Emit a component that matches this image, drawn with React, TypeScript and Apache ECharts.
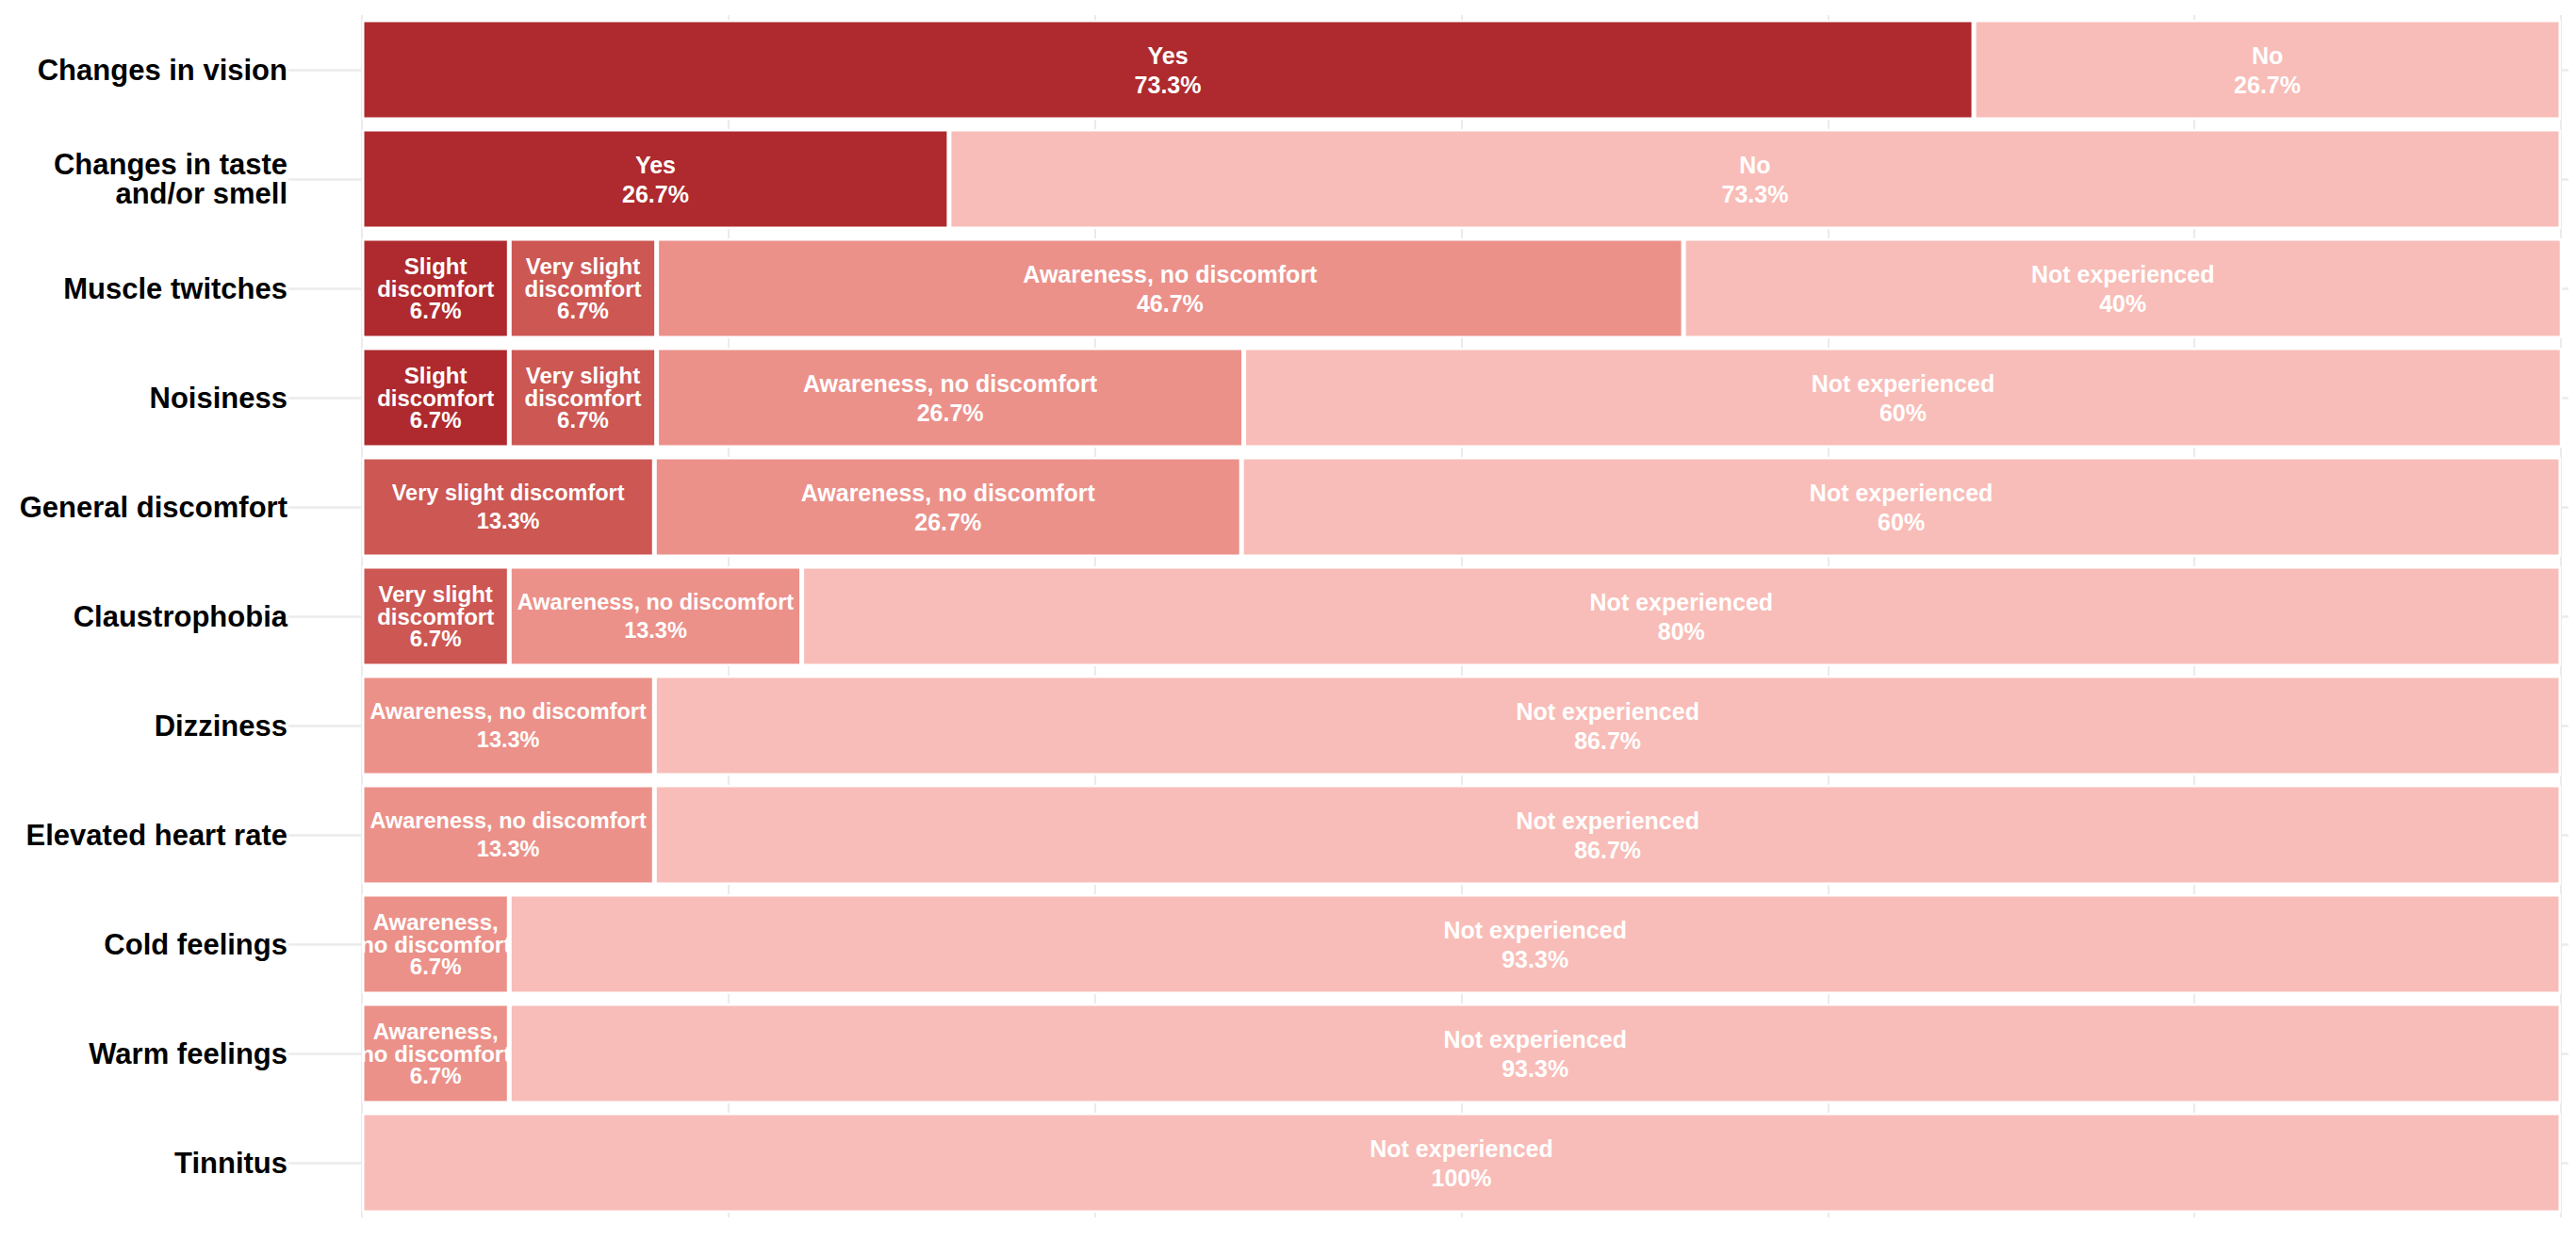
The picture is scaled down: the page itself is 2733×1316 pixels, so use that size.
import React, { useEffect, useRef } from "react";
import * as echarts from "echarts";

const categories = [
  "Changes in vision",
  "Changes in taste\nand/or smell",
  "Muscle twitches",
  "Noisiness",
  "General discomfort",
  "Claustrophobia",
  "Dizziness",
  "Elevated heart rate",
  "Cold feelings",
  "Warm feelings",
  "Tinnitus",
];

const seriesNames = [
  "Yes",
  "Slight discomfort",
  "Very slight discomfort",
  "Awareness, no discomfort",
  "No",
  "Not experienced",
];

const yesValues = [73.3, 26.7, null, null, null, null, null, null, null, null, null];
const slightValues = [null, null, 6.7, 6.7, null, null, null, null, null, null, null];
const verySlightValues = [null, null, 6.7, 6.7, 13.3, 6.7, null, null, null, null, null];
const awarenessValues = [null, null, 46.7, 26.7, 26.7, 13.3, 13.3, 13.3, 6.7, 6.7, null];
const noValues = [26.7, 73.3, null, null, null, null, null, null, null, null, null];
const notExperiencedValues = [null, null, 40, 60, 60, 80, 86.7, 86.7, 93.3, 93.3, 100];

// wrapped forms of names used in narrow segments
const wrappedNames: Record<string, string[]> = {
  "Slight discomfort": ["Slight", "discomfort"],
  "Very slight discomfort": ["Very slight", "discomfort"],
  "Awareness, no discomfort": ["Awareness,", "no discomfort"],
};

const colors = ["#ae2a2e", "#ae2a2e", "#cc5753", "#eb918a", "#f8bdb8", "#f8bdb8"];

const allValues = [
  yesValues,
  slightValues,
  verySlightValues,
  awarenessValues,
  noValues,
  notExperiencedValues,
];

const FONT = "'Liberation Sans', Arial, Helvetica, sans-serif";

function fmt(v: number) {
  return (Math.round(v * 10) / 10).toString() + "%";
}

export default function App() {
  const ref = useRef<HTMLDivElement>(null);
  useEffect(() => {
    if (!ref.current) return;
    const chart = echarts.init(ref.current, undefined, { renderer: "svg" });
    const series = seriesNames.map((name, i) => ({
      name,
      type: "bar",
      stack: "total",
      barCategoryGap: "8.5%",
      data: allValues[i],
      itemStyle: { color: colors[i], borderColor: "#ffffff", borderWidth: 2.5 },
      label: {
        show: true,
        position: "inside",
        color: "#ffffff",
        fontFamily: FONT,
        fontWeight: "bold",
        formatter: (p: any) => {
          const v = p.value as number;
          if (v < 10 && wrappedNames[p.seriesName]) {
            const lines = wrappedNames[p.seriesName];
            return lines.map((l) => `{s|${l}}`).join("\n") + `\n{s|${fmt(v)}}`;
          }
          if (v < 15) {
            return `{m|${p.seriesName}}\n{m|${fmt(v)}}`;
          }
          return `{n|${p.seriesName}}\n{n|${fmt(v)}}`;
        },
        rich: {
          n: {
            color: "#ffffff",
            fontFamily: FONT,
            fontWeight: "bold",
            fontSize: 25,
            lineHeight: 31,
          },
          m: {
            color: "#ffffff",
            fontFamily: FONT,
            fontWeight: "bold",
            fontSize: 23.5,
            lineHeight: 30,
          },
          s: {
            color: "#ffffff",
            fontFamily: FONT,
            fontWeight: "bold",
            fontSize: 24,
            lineHeight: 23.5,
          },
        },
      },
      emphasis: { disabled: true },
    }));

    chart.setOption({
      animation: false,
      grid: { left: 376, right: 8, top: 8, bottom: 16, containLabel: false },
      xAxis: {
        type: "value",
        min: 0,
        max: 100,
        interval: 100 / 6,
        axisLabel: { show: false },
        axisLine: { show: false },
        axisTick: { show: false },
        splitLine: { show: true, lineStyle: { color: "#ebebeb", width: 2 } },
      },
      yAxis: [
        {
          type: "category",
          data: categories,
          inverse: true,
          axisLine: { show: false },
          axisTick: {
            show: true,
            alignWithLabel: true,
            length: 78,
            lineStyle: { color: "#ebebeb", width: 2.5 },
          },
          axisLabel: {
            margin: 79,
            color: "#000000",
            fontFamily: FONT,
            fontWeight: "bold",
            fontSize: 31,
            lineHeight: 31,
            align: "right",
          },
          splitLine: { show: false },
        },
        {
          type: "category",
          data: categories,
          inverse: true,
          position: "right",
          axisLine: { show: false },
          axisTick: {
            show: true,
            alignWithLabel: true,
            length: 20,
            lineStyle: { color: "#ebebeb", width: 2.5 },
          },
          axisLabel: { show: false },
          splitLine: { show: false },
        },
      ],
      series,
    });
    return () => chart.dispose();
  }, []);
  return <div ref={ref} style={{ width: "100%", height: 1300 }} />;
}
